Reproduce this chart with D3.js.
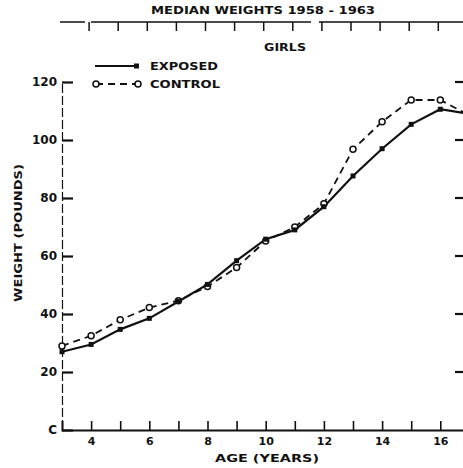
<!DOCTYPE html>
<html lang="en">
  <head>
    <meta charset="utf-8">
    <title>Median Weights 1958-1963 - Girls</title>
    <script type="text/javascript" src="https://cdn.jsdelivr.net/npm/d3@7"></script>
    <style type="text/css">
      body { margin: 0; background: #fff; overflow: hidden; }
      svg { display: block; }
      text { font-family: "DejaVu Sans", sans-serif; font-weight: bold; fill: #111; }
      .axis text { font-size: 11px; }
    </style>
  </head>
  <body>
  <script type="text/javascript">

    const w = 463;
    const h = 468;

    // data
    const ages = [3, 4, 5, 6, 7, 8, 9, 10, 11, 12, 13, 14, 15, 16, 17];
    const exposed = [27, 29.5, 34.7, 38.5, 44.3, 50.2, 58.4, 65.8, 69, 77, 87.6, 97, 105.4, 110.6, 109];
    const control = [29, 32.5, 38, 42.2, 44.6, 49.5, 56, 65.2, 70, 78, 96.8, 106.3, 113.8, 113.8, 108.5];
    const yTicks = [0, 20, 40, 60, 80, 100, 120];
    const yTickLabels = ["C", "20", "40", "60", "80", "100", "120"];
    const xLabelTicks = [4, 6, 8, 10, 12, 14, 16];
    const xMinorTicks = [4, 5, 6, 7, 8, 9, 10, 11, 12, 13, 14, 15, 16];

    const xScale = d3.scaleLinear().domain([3, 17]).range([62, 62 + 14 * 29.1]);
    const yScale = d3.scaleLinear().domain([0, 120]).range([430, 82]);

    const svg = d3.select("body")
                  .append("svg")
                  .attr("width", w)
                  .attr("height", h);

    // title
    svg.append("text")
       .attr("x", 263).attr("y", 14)
       .attr("text-anchor", "middle")
       .attr("textLength", 224)
       .attr("lengthAdjust", "spacingAndGlyphs")
       .style("font-size", "11px")
       .text("MEDIAN WEIGHTS 1958 - 1963");

    // top axis (ticks hanging down)
    svg.append("path")
       .attr("d", "M60,22H" + w)
       .attr("stroke", "#111").attr("stroke-width", 1.5)
       .attr("stroke-dasharray", "25,6,220,8,300");
    svg.selectAll("path.toptick")
       .data(xMinorTicks)
       .enter().append("path")
       .attr("class", "toptick")
       .attr("d", d => "M" + (xScale(d) - 2) + ",22V31")
       .attr("stroke", "#111").attr("stroke-width", 1.5);

    svg.append("text")
       .attr("x", 285).attr("y", 51)
       .attr("text-anchor", "middle")
       .attr("textLength", 42)
       .attr("lengthAdjust", "spacingAndGlyphs")
       .style("font-size", "10px")
       .text("GIRLS");

    // left axis
    const yAxis = d3.axisLeft(yScale)
                    .tickValues(yTicks)
                    .tickSize(-11)
                    .tickPadding(5)
                    .tickFormat((d, i) => yTickLabels[i]);
    const gy = svg.append("g")
       .attr("class", "axis")
       .attr("transform", "translate(" + xScale(3) + ",0)")
       .call(yAxis);
    gy.select(".domain").attr("stroke", "#111").attr("stroke-width", 1.2).attr("stroke-dasharray", "9,3");
    gy.selectAll(".tick line").attr("stroke", "#111").attr("stroke-width", 2.2);
    gy.selectAll(".tick text").style("font-size", "12px");

    // right-side ticks
    svg.selectAll("path.rtick")
       .data(yTicks.slice(1))
       .enter().append("path")
       .attr("class", "rtick")
       .attr("d", d => "M455," + yScale(d) + "H" + w)
       .attr("stroke", "#111").attr("stroke-width", 2.2);

    // bottom axis
    const xAxis = d3.axisBottom(xScale)
                    .tickValues(xMinorTicks)
                    .tickSize(-9)
                    .tickPadding(7)
                    .tickFormat(d => xLabelTicks.includes(d) ? d : "");
    const gx = svg.append("g")
       .attr("class", "axis")
       .attr("transform", "translate(0," + yScale(0) + ")")
       .call(xAxis);
    gx.select(".domain").attr("stroke", "#111").attr("stroke-width", 2);
    gx.selectAll(".tick line").attr("stroke", "#111").attr("stroke-width", 1.6);
    gx.selectAll(".tick text").style("font-size", "11px");

    svg.append("text")
       .attr("x", 267).attr("y", 462)
       .attr("text-anchor", "middle")
       .attr("textLength", 104)
       .attr("lengthAdjust", "spacingAndGlyphs")
       .style("font-size", "11px")
       .text("AGE (YEARS)");

    svg.append("text")
       .attr("transform", "translate(22,233) rotate(-90)")
       .attr("text-anchor", "middle")
       .attr("textLength", 138)
       .attr("lengthAdjust", "spacingAndGlyphs")
       .style("font-size", "10px")
       .text("WEIGHT (POUNDS)");

    // series
    const lineGen = d3.line()
                      .x((d, i) => xScale(ages[i]))
                      .y(d => yScale(d));

    svg.append("path")
       .datum(control)
       .attr("d", lineGen)
       .attr("fill", "none")
       .attr("stroke", "#111")
       .attr("stroke-width", 1.8)
       .attr("stroke-dasharray", "7,5");

    svg.append("path")
       .datum(exposed)
       .attr("d", lineGen)
       .attr("fill", "none")
       .attr("stroke", "#111")
       .attr("stroke-width", 2.2);

    svg.selectAll(".cpt")
       .data(control)
       .enter().append("circle")
       .attr("class", "cpt")
       .attr("cx", (d, i) => xScale(ages[i]))
       .attr("cy", d => yScale(d))
       .attr("r", 3)
       .attr("fill", "#fff")
       .attr("stroke", "#111")
       .attr("stroke-width", 1.5);

    svg.selectAll(".ept")
       .data(exposed)
       .enter().append("rect")
       .attr("class", "ept")
       .attr("x", (d, i) => xScale(ages[i]) - 2.5)
       .attr("y", d => yScale(d) - 2.5)
       .attr("width", 5)
       .attr("height", 5)
       .attr("fill", "#111");

    // legend
    svg.append("path")
       .attr("d", "M95,66H137")
       .attr("stroke", "#111").attr("stroke-width", 2.2);
    svg.append("rect")
       .attr("x", 134).attr("y", 63.5).attr("width", 5).attr("height", 5)
       .attr("fill", "#111");
    svg.append("text")
       .attr("x", 150).attr("y", 70)
       .attr("textLength", 68)
       .attr("lengthAdjust", "spacingAndGlyphs")
       .style("font-size", "11px")
       .text("EXPOSED");

    svg.append("path")
       .attr("d", "M96,84H138")
       .attr("stroke", "#111").attr("stroke-width", 1.8)
       .attr("stroke-dasharray", "7,5");
    svg.selectAll(".lc")
       .data([96, 138])
       .enter().append("circle")
       .attr("class", "lc")
       .attr("cx", d => d).attr("cy", 84).attr("r", 3)
       .attr("fill", "#fff").attr("stroke", "#111").attr("stroke-width", 1.5);
    svg.append("text")
       .attr("x", 150).attr("y", 88)
       .attr("textLength", 70)
       .attr("lengthAdjust", "spacingAndGlyphs")
       .style("font-size", "11px")
       .text("CONTROL");

  </script>
  </body>
</html>
